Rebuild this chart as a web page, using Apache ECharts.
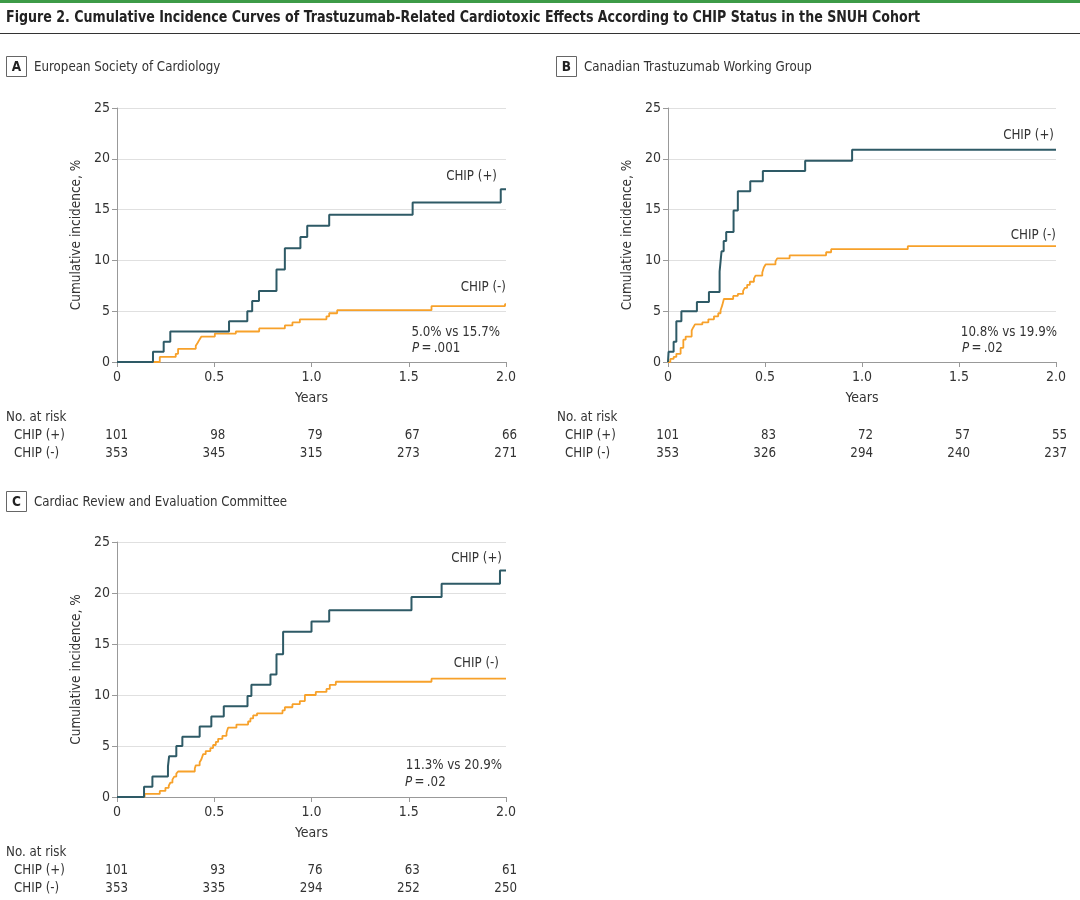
<!DOCTYPE html>
<html lang="en">
<head>
    <meta charset="UTF-8">
    <title>Figure 2</title>
    <script src="https://cdn.jsdelivr.net/npm/echarts@6/dist/echarts.min.js"></script>
    <style>
        html, body { margin: 0; padding: 0; background: #fff; }
        #app { width: 1080px; height: 900px; }
    </style>
</head>
<body>
    <div id="app"></div>
    <script>
        // step data: [years, cumulative incidence %]
        const escPos = [[0,0],[0.185,1.0],[0.24,2.0],[0.274,3.0],[0.576,4.0],[0.67,5.0],[0.695,6.0],[0.73,7.0],[0.82,9.1],[0.863,11.2],[0.943,12.3],[0.978,13.4],[1.091,14.5],[1.52,15.7],[1.973,17.0],[2.0,17.0]];
        const escNeg = [[0,0],[0.22,0.5],[0.302,0.8],[0.314,1.3],[0.405,1.6],[0.415,1.9],[0.424,2.2],[0.434,2.5],[0.503,2.8],[0.611,3.0],[0.731,3.3],[0.863,3.6],[0.902,3.9],[0.94,4.2],[1.077,4.5],[1.091,4.8],[1.132,5.1],[1.617,5.5],[1.995,5.7],[2.0,5.7]];

        const ctwgPos = [[0,0],[0.003,1.0],[0.029,2.0],[0.043,4.0],[0.069,5.0],[0.149,5.9],[0.211,6.9],[0.266,8.9],[0.276,10.9],[0.287,11.9],[0.3,12.8],[0.338,14.9],[0.36,16.8],[0.424,17.8],[0.489,18.8],[0.707,19.8],[0.949,20.9],[2.0,20.9]];
        const ctwgNeg = [[0,0],[0.012,0.3],[0.029,0.5],[0.043,0.8],[0.065,1.4],[0.079,2.2],[0.091,2.5],[0.122,3.1],[0.13,3.4],[0.139,3.7],[0.177,3.9],[0.208,4.2],[0.237,4.5],[0.259,4.8],[0.271,5.1],[0.28,5.6],[0.288,6.2],[0.336,6.5],[0.36,6.7],[0.387,7.0],[0.396,7.3],[0.408,7.6],[0.422,7.9],[0.443,8.2],[0.451,8.5],[0.486,8.8],[0.494,9.3],[0.503,9.6],[0.554,9.9],[0.563,10.2],[0.627,10.5],[0.815,10.8],[0.841,11.1],[1.236,11.4],[2.0,11.4]];

        const crecPos = [[0,0],[0.139,1.0],[0.182,2.0],[0.262,3.0],[0.268,4.0],[0.305,5.0],[0.336,5.9],[0.425,6.9],[0.485,7.9],[0.549,8.9],[0.671,9.9],[0.691,11.0],[0.789,12.0],[0.82,14.0],[0.854,16.2],[1.0,17.2],[1.091,18.3],[1.514,19.6],[1.669,20.9],[1.969,22.2],[2.0,22.2]];
        const crecNeg = [[0,0],[0.142,0.3],[0.22,0.6],[0.249,0.9],[0.266,1.1],[0.274,1.4],[0.285,1.7],[0.294,2.0],[0.305,2.3],[0.314,2.5],[0.4,2.8],[0.405,3.1],[0.425,3.4],[0.434,3.7],[0.443,4.2],[0.456,4.5],[0.48,4.8],[0.494,5.1],[0.508,5.4],[0.52,5.7],[0.542,6.0],[0.563,6.3],[0.571,6.8],[0.614,7.1],[0.674,7.4],[0.686,7.7],[0.7,8.0],[0.72,8.2],[0.851,8.5],[0.863,8.8],[0.902,9.1],[0.94,9.4],[0.966,10.0],[1.022,10.3],[1.077,10.6],[1.094,11.0],[1.125,11.3],[1.617,11.6],[2.0,11.6]];

        // no. at risk
        const riskTicks = [0, 0.5, 1.0, 1.5, 2.0];
        const escRiskPos = [101, 98, 79, 67, 66];
        const escRiskNeg = [353, 345, 315, 273, 271];
        const ctwgRiskPos = [101, 83, 72, 57, 55];
        const ctwgRiskNeg = [353, 326, 294, 240, 237];
        const crecRiskPos = [101, 93, 76, 63, 61];
        const crecRiskNeg = [353, 335, 294, 252, 250];

        const FONT = "'Liberation Sans Narrow', 'DejaVu Sans Condensed', 'Noto Sans', sans-serif";
        const TXT = '#333';
        const TEAL = '#2e5a66';
        const ORANGE = '#f7a12a';
        const SX = 0.91; // squeeze graphic texts a bit, ref font is narrower

        const panels = [
            { letter: 'A', name: 'European Society of Cardiology', pos: escPos, neg: escNeg, rp: escRiskPos, rn: escRiskNeg,
              grid: { left: 117, top: 108, width: 389, height: 254 } },
            { letter: 'B', name: 'Canadian Trastuzumab Working Group', pos: ctwgPos, neg: ctwgNeg, rp: ctwgRiskPos, rn: ctwgRiskNeg,
              grid: { left: 668, top: 108, width: 388, height: 254 } },
            { letter: 'C', name: 'Cardiac Review and Evaluation Committee', pos: crecPos, neg: crecNeg, rp: crecRiskPos, rn: crecRiskNeg,
              grid: { left: 117, top: 542, width: 389, height: 255 } }
        ];

        const myChart = echarts.init(document.getElementById('app'));

        const option = {
            animation: false,
            textStyle: { fontFamily: FONT, color: TXT },
            grid: panels.map(p => p.grid),
            xAxis: panels.map((p, i) => ({
                type: 'value', gridIndex: i, min: 0, max: 2, interval: 0.5,
                name: 'Years', nameLocation: 'middle', nameGap: 29,
                nameTextStyle: { fontSize: 14, color: TXT, fontFamily: FONT },
                axisLine: { show: true, lineStyle: { color: '#999', width: 1 } },
                axisTick: { show: true, length: 5, lineStyle: { color: '#999' } },
                axisLabel: { fontSize: 14, color: TXT, margin: 8, fontFamily: FONT,
                    formatter: v => v === 0 ? '0' : v.toFixed(1) },
                splitLine: { show: false }
            })),
            yAxis: panels.map((p, i) => ({
                type: 'value', gridIndex: i, min: 0, max: 25, interval: 5,
                name: 'Cumulative incidence, %', nameLocation: 'middle', nameGap: 34,
                nameTextStyle: { fontSize: 13.5, color: TXT, fontFamily: FONT },
                axisLine: { show: true, lineStyle: { color: '#999', width: 1 } },
                axisTick: { show: true, length: 5, lineStyle: { color: '#999' } },
                axisLabel: { fontSize: 14, color: TXT, margin: 7, fontFamily: FONT },
                splitLine: { show: true, lineStyle: { color: '#e0e0e0', width: 1 } }
            })),
            series: []
        };

        panels.forEach((p, i) => {
            option.series.push({
                name: 'CHIP (-)', type: 'line', step: 'end', xAxisIndex: i, yAxisIndex: i,
                data: p.neg, showSymbol: false, z: 3,
                lineStyle: { color: ORANGE, width: 1.8 }
            });
            option.series.push({
                name: 'CHIP (+)', type: 'line', step: 'end', xAxisIndex: i, yAxisIndex: i,
                data: p.pos, showSymbol: false, z: 4,
                lineStyle: { color: TEAL, width: 2 }
            });
        });

        myChart.setOption(option);

        // texts: title, panel headers, curve labels, p values, risk tables
        const g = [];
        function txt(x, y, text, opt, sx) {
            g.push({
                type: 'text', x: x, y: y, silent: true, scaleX: sx || SX,
                style: Object.assign({ text: text, fontFamily: FONT, fontSize: 14.5, fill: TXT,
                    textAlign: 'left', textVerticalAlign: 'middle' }, opt || {})
            });
        }
        function pval(x, y, text) {
            g.push({ type: 'text', x: x, y: y, silent: true, scaleX: SX,
                style: { rich: { i: { fontStyle: 'italic', fontFamily: FONT, fontSize: 14.5, fill: TXT },
                                 n: { fontFamily: FONT, fontSize: 14.5, fill: TXT } },
                    text: '{i|P}{n|\u2009=\u2009' + text + '}', textVerticalAlign: 'middle' } });
        }

        // title, squeezed to the width it has in the figure
        const titleText = 'Figure 2. Cumulative Incidence Curves of Trastuzumab-Related Cardiotoxic Effects According to CHIP Status in the SNUH Cohort';
        const ctx = document.createElement('canvas').getContext('2d');
        ctx.font = 'bold 16.5px ' + FONT;
        const titleScale = 914 / ctx.measureText(titleText).width;

        g.push({ type: 'rect', shape: { x: 0, y: 0, width: 1080, height: 3 }, style: { fill: '#3d9b47' } });
        txt(6, 18, titleText, { fontSize: 16.5, fontWeight: 'bold', fill: '#222' }, titleScale);
        g.push({ type: 'rect', shape: { x: 0, y: 33, width: 1080, height: 1 }, style: { fill: '#333' } });

        const headerPos = [[6, 56], [556, 56], [6, 491]];
        panels.forEach((p, i) => {
            const [hx, hy] = headerPos[i];
            g.push({ type: 'rect', shape: { x: hx + 0.5, y: hy + 0.5, width: 20, height: 20 },
                style: { fill: '#fff', stroke: '#666', lineWidth: 1 } });
            txt(hx + 10.5, hy + 11, p.letter, { textAlign: 'center', fontWeight: 'bold', fontSize: 13.5, fill: '#222' }, 1);
            txt(hx + 28, hy + 11, p.name);
        });

        // curve labels & comparison
        txt(497, 176, 'CHIP (+)', { textAlign: 'right' });
        txt(506, 287, 'CHIP (-)', { textAlign: 'right' });
        txt(500, 332, '5.0% vs 15.7%', { textAlign: 'right' });
        pval(412, 348, '.001');

        txt(1054, 135, 'CHIP (+)', { textAlign: 'right' });
        txt(1056, 235, 'CHIP (-)', { textAlign: 'right' });
        txt(1057, 332, '10.8% vs 19.9%', { textAlign: 'right' });
        pval(962, 348, '.02');

        txt(502, 558, 'CHIP (+)', { textAlign: 'right' });
        txt(499, 663, 'CHIP (-)', { textAlign: 'right' });
        txt(502, 765, '11.3% vs 20.9%', { textAlign: 'right' });
        pval(405, 782, '.02');

        // risk tables, numbers placed under the axis ticks
        const tableLeft = [6, 557, 6];
        const tableTop = [417, 417, 852];
        panels.forEach((p, i) => {
            const y0 = tableTop[i];
            txt(tableLeft[i], y0, 'No. at risk');
            txt(tableLeft[i] + 8, y0 + 18, 'CHIP (+)');
            txt(tableLeft[i] + 8, y0 + 36, 'CHIP (-)');
            riskTicks.forEach((t, k) => {
                const px = myChart.convertToPixel({ xAxisIndex: i }, t) + 11;
                txt(px, y0 + 18, String(p.rp[k]), { textAlign: 'right' });
                txt(px, y0 + 36, String(p.rn[k]), { textAlign: 'right' });
            });
        });

        myChart.setOption({ graphic: g });
    </script>
</body>
</html>
